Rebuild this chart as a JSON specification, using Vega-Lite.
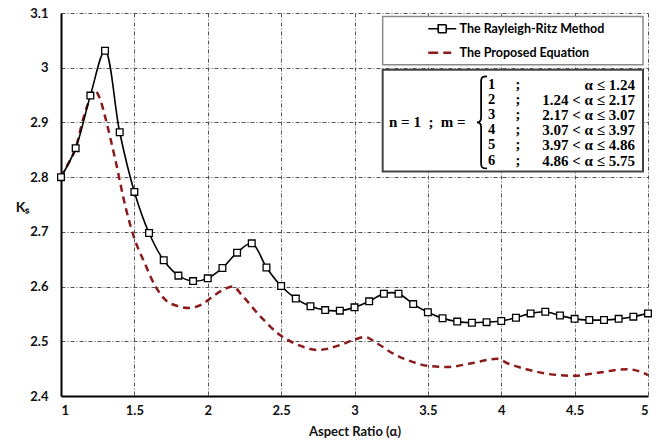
{
  "$schema": "https://vega.github.io/schema/vega-lite/v6.json",
  "width": 587,
  "height": 383,
  "autosize": "none",
  "padding": {"left": 61, "top": 13, "right": 10, "bottom": 47},
  "background": "white",
  "config": {
    "view": {"stroke": null},
    "axis": {
      "grid": true,
      "domainColor": "#000000",
      "domainWidth": 2,
      "ticks": false,
      "gridColor": "#555555",
      "gridDash": [4, 2, 1, 2],
      "gridWidth": 1,
      "gridOpacity": 1,
      "labelFont": "Lato",
      "labelFontWeight": "bold",
      "labelFontSize": 13,
      "labelColor": "#111111",
      "titleFont": "Lato",
      "titleFontWeight": "bold",
      "titleFontSize": 13,
      "titleColor": "#111111"
    }
  },
  "data": {
    "values": [
      {"a": 1.0, "k": 2.800, "series": "The Rayleigh-Ritz Method"},
      {"a": 1.1, "k": 2.853, "series": "The Rayleigh-Ritz Method"},
      {"a": 1.2, "k": 2.949, "series": "The Rayleigh-Ritz Method"},
      {"a": 1.3, "k": 3.031, "series": "The Rayleigh-Ritz Method"},
      {"a": 1.4, "k": 2.882, "series": "The Rayleigh-Ritz Method"},
      {"a": 1.5, "k": 2.773, "series": "The Rayleigh-Ritz Method"},
      {"a": 1.6, "k": 2.698, "series": "The Rayleigh-Ritz Method"},
      {"a": 1.7, "k": 2.648, "series": "The Rayleigh-Ritz Method"},
      {"a": 1.8, "k": 2.620, "series": "The Rayleigh-Ritz Method"},
      {"a": 1.9, "k": 2.610, "series": "The Rayleigh-Ritz Method"},
      {"a": 2.0, "k": 2.615, "series": "The Rayleigh-Ritz Method"},
      {"a": 2.1, "k": 2.634, "series": "The Rayleigh-Ritz Method"},
      {"a": 2.2, "k": 2.662, "series": "The Rayleigh-Ritz Method"},
      {"a": 2.3, "k": 2.679, "series": "The Rayleigh-Ritz Method"},
      {"a": 2.4, "k": 2.635, "series": "The Rayleigh-Ritz Method"},
      {"a": 2.5, "k": 2.601, "series": "The Rayleigh-Ritz Method"},
      {"a": 2.6, "k": 2.578, "series": "The Rayleigh-Ritz Method"},
      {"a": 2.7, "k": 2.564, "series": "The Rayleigh-Ritz Method"},
      {"a": 2.8, "k": 2.557, "series": "The Rayleigh-Ritz Method"},
      {"a": 2.9, "k": 2.556, "series": "The Rayleigh-Ritz Method"},
      {"a": 3.0, "k": 2.562, "series": "The Rayleigh-Ritz Method"},
      {"a": 3.1, "k": 2.573, "series": "The Rayleigh-Ritz Method"},
      {"a": 3.2, "k": 2.587, "series": "The Rayleigh-Ritz Method"},
      {"a": 3.3, "k": 2.587, "series": "The Rayleigh-Ritz Method"},
      {"a": 3.4, "k": 2.568, "series": "The Rayleigh-Ritz Method"},
      {"a": 3.5, "k": 2.553, "series": "The Rayleigh-Ritz Method"},
      {"a": 3.6, "k": 2.542, "series": "The Rayleigh-Ritz Method"},
      {"a": 3.7, "k": 2.536, "series": "The Rayleigh-Ritz Method"},
      {"a": 3.8, "k": 2.534, "series": "The Rayleigh-Ritz Method"},
      {"a": 3.9, "k": 2.535, "series": "The Rayleigh-Ritz Method"},
      {"a": 4.0, "k": 2.537, "series": "The Rayleigh-Ritz Method"},
      {"a": 4.1, "k": 2.543, "series": "The Rayleigh-Ritz Method"},
      {"a": 4.2, "k": 2.551, "series": "The Rayleigh-Ritz Method"},
      {"a": 4.3, "k": 2.554, "series": "The Rayleigh-Ritz Method"},
      {"a": 4.4, "k": 2.547, "series": "The Rayleigh-Ritz Method"},
      {"a": 4.5, "k": 2.541, "series": "The Rayleigh-Ritz Method"},
      {"a": 4.6, "k": 2.539, "series": "The Rayleigh-Ritz Method"},
      {"a": 4.7, "k": 2.539, "series": "The Rayleigh-Ritz Method"},
      {"a": 4.8, "k": 2.541, "series": "The Rayleigh-Ritz Method"},
      {"a": 4.9, "k": 2.545, "series": "The Rayleigh-Ritz Method"},
      {"a": 5.0, "k": 2.551, "series": "The Rayleigh-Ritz Method"},
      {"a": 1.00, "k": 2.800, "series": "The Proposed Equation"},
      {"a": 1.05, "k": 2.825, "series": "The Proposed Equation"},
      {"a": 1.10, "k": 2.853, "series": "The Proposed Equation"},
      {"a": 1.15, "k": 2.905, "series": "The Proposed Equation"},
      {"a": 1.20, "k": 2.945, "series": "The Proposed Equation"},
      {"a": 1.23, "k": 2.958, "series": "The Proposed Equation"},
      {"a": 1.27, "k": 2.940, "series": "The Proposed Equation"},
      {"a": 1.30, "k": 2.911, "series": "The Proposed Equation"},
      {"a": 1.37, "k": 2.832, "series": "The Proposed Equation"},
      {"a": 1.44, "k": 2.745, "series": "The Proposed Equation"},
      {"a": 1.50, "k": 2.688, "series": "The Proposed Equation"},
      {"a": 1.57, "k": 2.643, "series": "The Proposed Equation"},
      {"a": 1.64, "k": 2.602, "series": "The Proposed Equation"},
      {"a": 1.71, "k": 2.576, "series": "The Proposed Equation"},
      {"a": 1.80, "k": 2.564, "series": "The Proposed Equation"},
      {"a": 1.87, "k": 2.561, "series": "The Proposed Equation"},
      {"a": 1.95, "k": 2.566, "series": "The Proposed Equation"},
      {"a": 2.05, "k": 2.585, "series": "The Proposed Equation"},
      {"a": 2.12, "k": 2.596, "series": "The Proposed Equation"},
      {"a": 2.17, "k": 2.600, "series": "The Proposed Equation"},
      {"a": 2.24, "k": 2.582, "series": "The Proposed Equation"},
      {"a": 2.35, "k": 2.548, "series": "The Proposed Equation"},
      {"a": 2.49, "k": 2.512, "series": "The Proposed Equation"},
      {"a": 2.63, "k": 2.492, "series": "The Proposed Equation"},
      {"a": 2.75, "k": 2.484, "series": "The Proposed Equation"},
      {"a": 2.90, "k": 2.493, "series": "The Proposed Equation"},
      {"a": 3.00, "k": 2.503, "series": "The Proposed Equation"},
      {"a": 3.07, "k": 2.508, "series": "The Proposed Equation"},
      {"a": 3.15, "k": 2.497, "series": "The Proposed Equation"},
      {"a": 3.26, "k": 2.478, "series": "The Proposed Equation"},
      {"a": 3.40, "k": 2.462, "series": "The Proposed Equation"},
      {"a": 3.50, "k": 2.455, "series": "The Proposed Equation"},
      {"a": 3.63, "k": 2.453, "series": "The Proposed Equation"},
      {"a": 3.80, "k": 2.460, "series": "The Proposed Equation"},
      {"a": 3.97, "k": 2.468, "series": "The Proposed Equation"},
      {"a": 4.05, "k": 2.459, "series": "The Proposed Equation"},
      {"a": 4.17, "k": 2.449, "series": "The Proposed Equation"},
      {"a": 4.33, "k": 2.440, "series": "The Proposed Equation"},
      {"a": 4.50, "k": 2.437, "series": "The Proposed Equation"},
      {"a": 4.67, "k": 2.443, "series": "The Proposed Equation"},
      {"a": 4.86, "k": 2.449, "series": "The Proposed Equation"},
      {"a": 4.93, "k": 2.446, "series": "The Proposed Equation"},
      {"a": 5.00, "k": 2.438, "series": "The Proposed Equation"}
    ]
  },
  "layer": [
    {
      "data": {"values": [{}]},
      "mark": {"type": "rect", "fill": "white", "stroke": "#8a8a8a", "strokeWidth": 1.5},
      "encoding": {
        "x": {"datum": 3.192, "type": "quantitative"},
        "x2": {"datum": 4.966},
        "y": {"datum": 3.0938, "type": "quantitative"},
        "y2": {"datum": 3.0055}
      }
    },
    {
      "data": {"values": [{}]},
      "mark": {"type": "rect", "fill": "white", "stroke": "#444444", "strokeWidth": 2},
      "encoding": {
        "x": {"datum": 3.192, "type": "quantitative"},
        "x2": {"datum": 4.966},
        "y": {"datum": 2.9963, "type": "quantitative"},
        "y2": {"datum": 2.8104}
      }
    },
    {
      "transform": [{"filter": "datum.series === 'The Proposed Equation'"}],
      "mark": {"type": "line", "interpolate": "monotone", "strokeWidth": 2.5, "strokeDash": [7, 5]},
      "encoding": {
        "x": {
          "field": "a", "type": "quantitative",
          "scale": {"domain": [1, 5], "nice": false, "zero": false},
          "axis": {"title": "Aspect Ratio (α)", "grid": true, "values": [1, 1.5, 2, 2.5, 3, 3.5, 4, 4.5, 5], "format": "~g", "labelPadding": 8, "titlePadding": 8}
        },
        "y": {
          "field": "k", "type": "quantitative",
          "scale": {"domain": [2.4, 3.1], "nice": false, "zero": false},
          "axis": {"title": "Kₛ", "grid": true, "values": [2.4, 2.5, 2.6, 2.7, 2.8, 2.9, 3, 3.1], "format": "~g", "labelPadding": 13,
                   "titleAngle": 0, "titleX": -39, "titleY": 194, "titleAlign": "center", "titleBaseline": "middle", "titleFontSize": 14}
        },
        "color": {
          "field": "series", "type": "nominal",
          "scale": {"domain": ["The Rayleigh-Ritz Method", "The Proposed Equation"], "range": ["#000000", "#8b1a1a"]},
          "legend": {
            "title": null,
            "orient": "none",
            "legendX": 375,
            "legendY": 9.5,
            "padding": 0,
            "symbolSize": 100,
            "labelOffset": 11,
            "rowPadding": 10,
            "labelFont": "Lato",
            "labelFontWeight": "bold",
            "labelFontSize": 12.5,
            "labelColor": "#000000",
            "encode": {
              "symbols": {
                "update": {
                  "shape": {"signal": "datum.value === 'The Rayleigh-Ritz Method' ? 'M-2.8,0H-0.8M0.8,0H2.8M-0.8,-0.8H0.8V0.8H-0.8Z' : 'M-2.8,0H-0.8M0.2,0H1.8'"},
                  "strokeWidth": {"signal": "datum.value === 'The Rayleigh-Ritz Method' ? 1.6 : 2.5"},
                  "fill": {"value": "white"},
                  "strokeDash": {"value": [1, 0]}
                }
              }
            }
          }
        }
      }
    },
    {
      "transform": [{"filter": "datum.series === 'The Rayleigh-Ritz Method'"}],
      "mark": {"type": "line", "interpolate": "catmull-rom", "strokeWidth": 1.6},
      "encoding": {
        "x": {"field": "a", "type": "quantitative"},
        "y": {"field": "k", "type": "quantitative"},
        "color": {"field": "series", "type": "nominal"}
      }
    },
    {
      "transform": [{"filter": "datum.series === 'The Rayleigh-Ritz Method'"}],
      "mark": {"type": "point", "shape": "square", "filled": true, "fill": "white", "stroke": "#000000", "strokeWidth": 1.3, "size": 45, "opacity": 1},
      "encoding": {
        "x": {"field": "a", "type": "quantitative"},
        "y": {"field": "k", "type": "quantitative"}
      }
    },
    {
      "data": {"values": [{}]},
      "mark": {"type": "point", "shape": "M0.11,-1C0,-1 -0.02,-0.97 -0.02,-0.9L-0.02,-0.1C-0.02,-0.03 -0.06,0 -0.11,0C-0.06,0 -0.02,0.03 -0.02,0.1L-0.02,0.9C-0.02,0.97 0,1 0.11,1", "filled": false, "stroke": "#000000", "strokeWidth": 1.8, "size": 8464, "opacity": 1},
      "encoding": {
        "x": {"datum": 3.869, "type": "quantitative"},
        "y": {"datum": 2.9, "type": "quantitative"}
      }
    },
    {
      "data": {"values": [{}]},
      "mark": {"type": "text", "text": "n = 1\u00a0\u00a0;\u00a0\u00a0m =", "font": "Liberation Serif", "fontWeight": "bold", "fontSize": 15, "align": "left", "baseline": "middle", "color": "#000000"},
      "encoding": {
        "x": {"datum": 3.235, "type": "quantitative"},
        "y": {"datum": 2.9, "type": "quantitative"}
      }
    },
    {
      "data": {"values": [{}]},
      "mark": {"type": "text", "text": ["1", "2", "3", "4", "5", "6"], "font": "Liberation Serif", "fontWeight": "bold", "fontSize": 14.5, "lineHeight": 15.2, "align": "left", "baseline": "middle", "color": "#000000"},
      "encoding": {
        "x": {"datum": 3.91, "type": "quantitative"},
        "y": {"datum": 2.969, "type": "quantitative"}
      }
    },
    {
      "data": {"values": [{}]},
      "mark": {"type": "text", "text": [";", ";", ";", ";", ";", ";"], "font": "Liberation Serif", "fontWeight": "bold", "fontSize": 14.5, "lineHeight": 15.2, "align": "center", "baseline": "middle", "color": "#000000"},
      "encoding": {
        "x": {"datum": 4.114, "type": "quantitative"},
        "y": {"datum": 2.969, "type": "quantitative"}
      }
    },
    {
      "data": {"values": [{}]},
      "mark": {"type": "text", "text": ["α ≤ 1.24", "1.24 < α ≤ 2.17", "2.17 < α ≤ 3.07", "3.07 < α ≤ 3.97", "3.97 < α ≤ 4.86", "4.86 < α ≤ 5.75"], "font": "Liberation Serif", "fontWeight": "bold", "fontSize": 15, "lineHeight": 15.2, "align": "right", "baseline": "middle", "color": "#000000"},
      "encoding": {
        "x": {"datum": 4.911, "type": "quantitative"},
        "y": {"datum": 2.969, "type": "quantitative"}
      }
    }
  ]
}
